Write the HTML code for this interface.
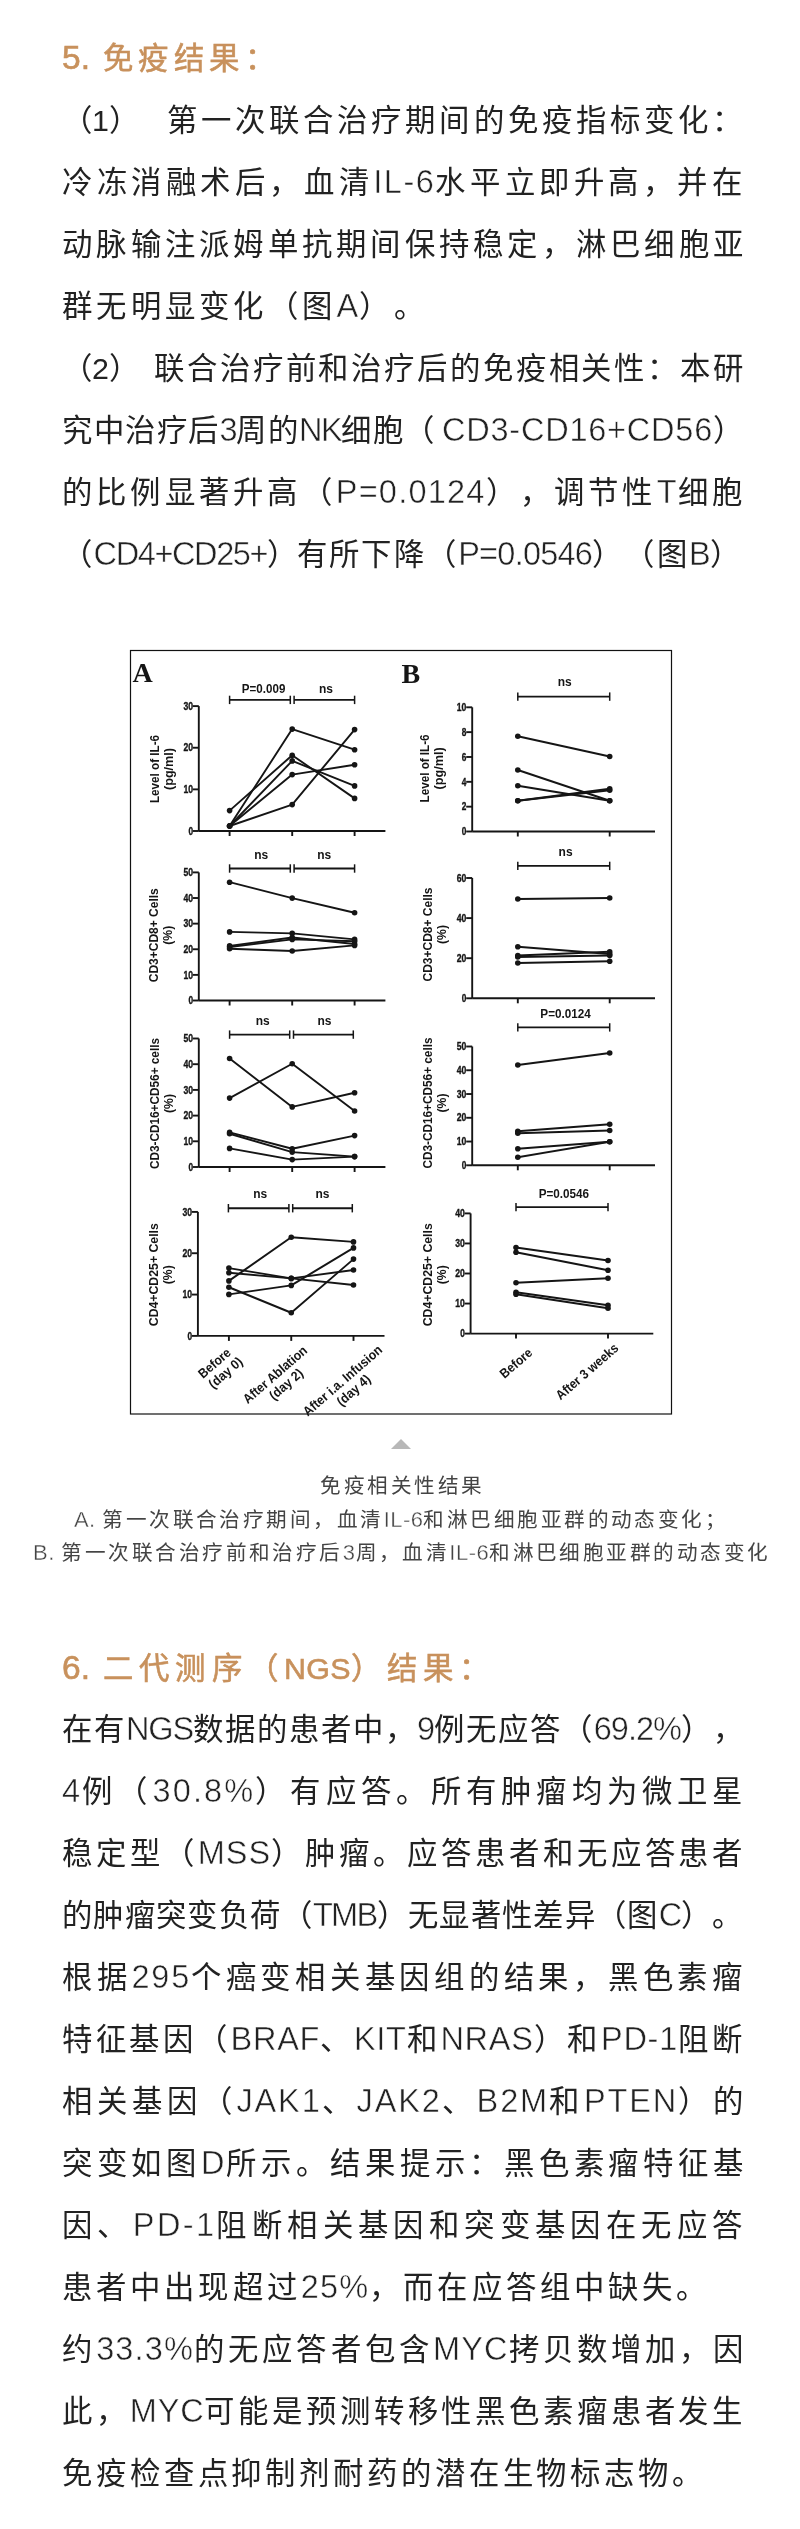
<!DOCTYPE html>
<html lang="zh-CN">
<head>
<meta charset="utf-8">
<style>
html,body{margin:0;padding:0;background:#fff;}
body{width:800px;height:2529px;position:relative;overflow:hidden;font-family:"Liberation Sans",sans-serif;}
.t{position:absolute;white-space:nowrap;line-height:40px;text-spacing-trim:space-all;will-change:transform;}
.b{font-size:30.4px;color:#222;}
.h{font-size:30.4px;color:#c8915c;-webkit-text-stroke:0.6px #c8915c;}
.c{font-size:20.6px;color:#444;}
.fig{will-change:transform;}
</style>
</head>
<body>
<div class="t h" style="left:62.0px;top:38px;letter-spacing:0.00px;font-size:33.5px;">5.</div>
<div class="t h" style="left:102.5px;top:38px;letter-spacing:5.38px;">免疫结果：</div>
<div class="t b" style="left:62.0px;top:100px;letter-spacing:0.00px;">（1）</div>
<div class="t b" style="left:167.0px;top:100px;letter-spacing:4.06px;">第一次联合治疗期间的免疫指标变化：</div>
<div class="t b" style="left:62.0px;top:162px;letter-spacing:4.57px;">冷冻消融术后，血清<span style="font-size:32.5px;line-height:0;-webkit-text-stroke:0.5px #fff;letter-spacing:1.57px">IL-6</span>水平立即升高，并在</div>
<div class="t b" style="left:62.0px;top:224px;letter-spacing:4.26px;">动脉输注派姆单抗期间保持稳定，淋巴细胞亚</div>
<div class="t b" style="left:62.0px;top:286px;letter-spacing:4.30px;">群无明显变化（图<span style="font-size:32.5px;line-height:0;-webkit-text-stroke:0.5px #fff;letter-spacing:1.30px">A</span>）。</div>
<div class="t b" style="left:62.0px;top:348px;letter-spacing:0.00px;">（2）</div>
<div class="t b" style="left:154.0px;top:348px;letter-spacing:2.88px;">联合治疗前和治疗后的免疫相关性：本研</div>
<div class="t b" style="left:62.0px;top:410px;letter-spacing:1.50px;">究中治疗后<span style="font-size:32.5px;line-height:0;-webkit-text-stroke:0.5px #fff;letter-spacing:-1.50px">3</span>周的<span style="font-size:32.5px;line-height:0;-webkit-text-stroke:0.5px #fff;letter-spacing:-1.50px">NK</span>细胞（</div>
<div class="t b" style="left:442.0px;top:410px;letter-spacing:3.77px;"><span style="font-size:32.5px;line-height:0;-webkit-text-stroke:0.5px #fff;letter-spacing:0.77px">CD3-CD16+CD56</span>）</div>
<div class="t b" style="left:62.0px;top:472px;letter-spacing:4.22px;">的比例显著升高（<span style="font-size:32.5px;line-height:0;-webkit-text-stroke:0.5px #fff;letter-spacing:1.22px">P=0.0124</span>），调节性<span style="font-size:32.5px;line-height:0;-webkit-text-stroke:0.5px #fff;letter-spacing:1.22px">T</span>细胞</div>
<div class="t b" style="left:62.0px;top:534px;letter-spacing:1.60px;">（<span style="font-size:32.5px;line-height:0;-webkit-text-stroke:0.5px #fff;letter-spacing:-1.40px">CD4+CD25+</span>）</div>
<div class="t b" style="left:297.0px;top:534px;letter-spacing:2.24px;">有所下降（<span style="font-size:32.5px;line-height:0;-webkit-text-stroke:0.5px #fff;letter-spacing:-0.76px">P=0.0546</span>）（图<span style="font-size:32.5px;line-height:0;-webkit-text-stroke:0.5px #fff;letter-spacing:-0.76px">B</span>）</div>
<div class="t c" style="left:320.0px;top:1466px;letter-spacing:2.50px;">免疫相关性结果</div>
<div class="t c" style="left:74.0px;top:1500px;letter-spacing:2.45px;"><span style="font-size:22.0px;line-height:0;-webkit-text-stroke:0.35px #fff;letter-spacing:0.45px">A. </span>第一次联合治疗期间，血清<span style="font-size:22.0px;line-height:0;-webkit-text-stroke:0.35px #fff;letter-spacing:0.45px">IL-6</span>和淋巴细胞亚群的动态变化；</div>
<div class="t c" style="left:33.0px;top:1533px;letter-spacing:2.46px;"><span style="font-size:22.0px;line-height:0;-webkit-text-stroke:0.35px #fff;letter-spacing:0.46px">B. </span>第一次联合治疗前和治疗后<span style="font-size:22.0px;line-height:0;-webkit-text-stroke:0.35px #fff;letter-spacing:0.46px">3</span>周，血清<span style="font-size:22.0px;line-height:0;-webkit-text-stroke:0.35px #fff;letter-spacing:0.46px">IL-6</span>和淋巴细胞亚群的动态变化</div>
<div class="t h" style="left:62.0px;top:1648px;letter-spacing:0.00px;font-size:33.5px;">6.</div>
<div class="t h" style="left:103.0px;top:1648px;letter-spacing:6.18px;">二代测序（<span style="font-size:30.4px;line-height:0;letter-spacing:0.38px">NGS</span>）结果：</div>
<div class="t b" style="left:62.0px;top:1709px;letter-spacing:1.96px;">在有<span style="font-size:32.5px;line-height:0;-webkit-text-stroke:0.5px #fff;letter-spacing:-1.04px">NGS</span>数据的患者中，<span style="font-size:32.5px;line-height:0;-webkit-text-stroke:0.5px #fff;letter-spacing:-1.04px">9</span>例无应答（<span style="font-size:32.5px;line-height:0;-webkit-text-stroke:0.5px #fff;letter-spacing:-1.04px">69.2%</span>），</div>
<div class="t b" style="left:62.0px;top:1771px;letter-spacing:5.14px;"><span style="font-size:32.5px;line-height:0;-webkit-text-stroke:0.5px #fff;letter-spacing:2.14px">4</span>例（<span style="font-size:32.5px;line-height:0;-webkit-text-stroke:0.5px #fff;letter-spacing:2.14px">30.8%</span>）有应答。所有肿瘤均为微卫星</div>
<div class="t b" style="left:62.0px;top:1833px;letter-spacing:3.95px;">稳定型（<span style="font-size:32.5px;line-height:0;-webkit-text-stroke:0.5px #fff;letter-spacing:0.95px">MSS</span>）肿瘤。应答患者和无应答患者</div>
<div class="t b" style="left:62.0px;top:1895px;letter-spacing:1.36px;">的肿瘤突变负荷（<span style="font-size:32.5px;line-height:0;-webkit-text-stroke:0.5px #fff;letter-spacing:-1.64px">TMB</span>）无显著性差异（图<span style="font-size:32.5px;line-height:0;-webkit-text-stroke:0.5px #fff;letter-spacing:-1.64px">C</span>）。</div>
<div class="t b" style="left:62.0px;top:1957px;letter-spacing:4.75px;">根据<span style="font-size:32.5px;line-height:0;-webkit-text-stroke:0.5px #fff;letter-spacing:1.75px">295</span>个癌变相关基因组的结果，黑色素瘤</div>
<div class="t b" style="left:62.0px;top:2019px;letter-spacing:3.72px;">特征基因（<span style="font-size:32.5px;line-height:0;-webkit-text-stroke:0.5px #fff;letter-spacing:0.72px">BRAF</span>、<span style="font-size:32.5px;line-height:0;-webkit-text-stroke:0.5px #fff;letter-spacing:0.72px">KIT</span>和<span style="font-size:32.5px;line-height:0;-webkit-text-stroke:0.5px #fff;letter-spacing:0.72px">NRAS</span>）和<span style="font-size:32.5px;line-height:0;-webkit-text-stroke:0.5px #fff;letter-spacing:0.72px">PD-1</span>阻断</div>
<div class="t b" style="left:62.0px;top:2081px;letter-spacing:4.88px;">相关基因（<span style="font-size:32.5px;line-height:0;-webkit-text-stroke:0.5px #fff;letter-spacing:1.88px">JAK1</span>、<span style="font-size:32.5px;line-height:0;-webkit-text-stroke:0.5px #fff;letter-spacing:1.88px">JAK2</span>、<span style="font-size:32.5px;line-height:0;-webkit-text-stroke:0.5px #fff;letter-spacing:1.88px">B2M</span>和<span style="font-size:32.5px;line-height:0;-webkit-text-stroke:0.5px #fff;letter-spacing:1.88px">PTEN</span>）的</div>
<div class="t b" style="left:62.0px;top:2143px;letter-spacing:4.74px;">突变如图<span style="font-size:32.5px;line-height:0;-webkit-text-stroke:0.5px #fff;letter-spacing:1.74px">D</span>所示。结果提示：黑色素瘤特征基</div>
<div class="t b" style="left:62.0px;top:2205px;letter-spacing:5.40px;">因、<span style="font-size:32.5px;line-height:0;-webkit-text-stroke:0.5px #fff;letter-spacing:2.40px">PD-1</span>阻断相关基因和突变基因在无应答</div>
<div class="t b" style="left:62.0px;top:2267px;letter-spacing:4.11px;">患者中出现超过<span style="font-size:32.5px;line-height:0;-webkit-text-stroke:0.5px #fff;letter-spacing:1.11px">25%</span>，而在应答组中缺失。</div>
<div class="t b" style="left:62.0px;top:2329px;letter-spacing:4.14px;">约<span style="font-size:32.5px;line-height:0;-webkit-text-stroke:0.5px #fff;letter-spacing:1.14px">33.3%</span>的无应答者包含<span style="font-size:32.5px;line-height:0;-webkit-text-stroke:0.5px #fff;letter-spacing:1.14px">MYC</span>拷贝数增加，因</div>
<div class="t b" style="left:62.0px;top:2391px;letter-spacing:3.85px;">此，<span style="font-size:32.5px;line-height:0;-webkit-text-stroke:0.5px #fff;letter-spacing:0.85px">MYC</span>可能是预测转移性黑色素瘤患者发生</div>
<div class="t b" style="left:62.0px;top:2453px;letter-spacing:3.89px;">免疫检查点抑制剂耐药的潜在生物标志物。</div>
<div style="position:absolute;left:391px;top:1439px;width:0;height:0;border-left:10px solid transparent;border-right:10px solid transparent;border-bottom:10px solid #b8b8b8;"></div>
<svg class="fig" style="position:absolute;left:125px;top:645px" width="555" height="775" viewBox="125 645 555 775"><rect x="130.5" y="650.5" width="541" height="763.5" fill="none" stroke="#111" stroke-width="1.2"/><g stroke="#151515" fill="#151515" font-family="Liberation Sans" font-weight="bold" stroke-linecap="butt"><line x1="198.80" y1="706.10" x2="198.80" y2="831.00" stroke-width="1.9"/>
<line x1="198.80" y1="831.00" x2="385.40" y2="831.00" stroke-width="1.9"/>
<line x1="192.80" y1="831.00" x2="198.80" y2="831.00" stroke-width="1.9"/>
<text x="193.00" y="834.70" font-size="10.4" text-anchor="end" textLength="4.6" lengthAdjust="spacingAndGlyphs" stroke-width="0.35" class="tk">0</text>
<line x1="192.80" y1="789.37" x2="198.80" y2="789.37" stroke-width="1.9"/>
<text x="193.00" y="793.07" font-size="10.4" text-anchor="end" textLength="9.6" lengthAdjust="spacingAndGlyphs" stroke-width="0.35" class="tk">10</text>
<line x1="192.80" y1="747.73" x2="198.80" y2="747.73" stroke-width="1.9"/>
<text x="193.00" y="751.43" font-size="10.4" text-anchor="end" textLength="9.6" lengthAdjust="spacingAndGlyphs" stroke-width="0.35" class="tk">20</text>
<line x1="192.80" y1="706.10" x2="198.80" y2="706.10" stroke-width="1.9"/>
<text x="193.00" y="709.80" font-size="10.4" text-anchor="end" textLength="9.6" lengthAdjust="spacingAndGlyphs" stroke-width="0.35" class="tk">30</text>
<line x1="229.60" y1="831.00" x2="229.60" y2="836.00" stroke-width="1.9"/>
<line x1="292.20" y1="831.00" x2="292.20" y2="836.00" stroke-width="1.9"/>
<line x1="354.60" y1="831.00" x2="354.60" y2="836.00" stroke-width="1.9"/>
<polyline points="229.60,826.00 292.20,729.10 354.60,749.70" fill="none" stroke-width="1.9" stroke-linejoin="round"/>
<polyline points="229.60,810.60 292.20,755.30 354.60,798.40" fill="none" stroke-width="1.9" stroke-linejoin="round"/>
<polyline points="229.60,826.00 292.20,760.90 354.60,785.90" fill="none" stroke-width="1.9" stroke-linejoin="round"/>
<polyline points="229.60,826.00 292.20,774.60 354.60,764.70" fill="none" stroke-width="1.9" stroke-linejoin="round"/>
<polyline points="229.60,826.00 292.20,804.60 354.60,729.60" fill="none" stroke-width="1.9" stroke-linejoin="round"/>
<circle cx="229.60" cy="826.00" r="2.8" stroke="none"/>
<circle cx="292.20" cy="729.10" r="2.8" stroke="none"/>
<circle cx="354.60" cy="749.70" r="2.8" stroke="none"/>
<circle cx="229.60" cy="810.60" r="2.8" stroke="none"/>
<circle cx="292.20" cy="755.30" r="2.8" stroke="none"/>
<circle cx="354.60" cy="798.40" r="2.8" stroke="none"/>
<circle cx="229.60" cy="826.00" r="2.8" stroke="none"/>
<circle cx="292.20" cy="760.90" r="2.8" stroke="none"/>
<circle cx="354.60" cy="785.90" r="2.8" stroke="none"/>
<circle cx="229.60" cy="826.00" r="2.8" stroke="none"/>
<circle cx="292.20" cy="774.60" r="2.8" stroke="none"/>
<circle cx="354.60" cy="764.70" r="2.8" stroke="none"/>
<circle cx="229.60" cy="826.00" r="2.8" stroke="none"/>
<circle cx="292.20" cy="804.60" r="2.8" stroke="none"/>
<circle cx="354.60" cy="729.60" r="2.8" stroke="none"/>
<line x1="229.60" y1="699.90" x2="290.30" y2="699.90" stroke-width="1.9"/>
<line x1="294.10" y1="699.90" x2="354.60" y2="699.90" stroke-width="1.9"/>
<line x1="229.60" y1="695.70" x2="229.60" y2="704.10" stroke-width="1.5"/>
<line x1="290.30" y1="695.70" x2="290.30" y2="704.10" stroke-width="1.5"/>
<line x1="294.10" y1="695.70" x2="294.10" y2="704.10" stroke-width="1.5"/>
<line x1="354.60" y1="695.70" x2="354.60" y2="704.10" stroke-width="1.5"/>
<text stroke="none" x="263.60" y="692.90" font-size="12.5" text-anchor="middle" textLength="43.5" lengthAdjust="spacingAndGlyphs">P=0.009</text>
<text stroke="none" x="325.90" y="692.90" font-size="12.5" text-anchor="middle" textLength="14" lengthAdjust="spacingAndGlyphs">ns</text>
<g transform="translate(159.00,769.00) rotate(-90)">
<text stroke="none" x="0.00" y="0.00" font-size="13" text-anchor="middle" textLength="68" lengthAdjust="spacingAndGlyphs">Level of IL-6</text>
<text stroke="none" x="0.00" y="14.00" font-size="13" text-anchor="middle" textLength="42" lengthAdjust="spacingAndGlyphs">(pg/ml)</text>
</g>
<line x1="472.20" y1="707.30" x2="472.20" y2="831.50" stroke-width="1.9"/>
<line x1="472.20" y1="831.50" x2="655.00" y2="831.50" stroke-width="1.9"/>
<line x1="466.20" y1="831.50" x2="472.20" y2="831.50" stroke-width="1.9"/>
<text x="466.40" y="835.20" font-size="10.4" text-anchor="end" textLength="4.6" lengthAdjust="spacingAndGlyphs" stroke-width="0.35" class="tk">0</text>
<line x1="466.20" y1="806.66" x2="472.20" y2="806.66" stroke-width="1.9"/>
<text x="466.40" y="810.36" font-size="10.4" text-anchor="end" textLength="4.6" lengthAdjust="spacingAndGlyphs" stroke-width="0.35" class="tk">2</text>
<line x1="466.20" y1="781.82" x2="472.20" y2="781.82" stroke-width="1.9"/>
<text x="466.40" y="785.52" font-size="10.4" text-anchor="end" textLength="4.6" lengthAdjust="spacingAndGlyphs" stroke-width="0.35" class="tk">4</text>
<line x1="466.20" y1="756.98" x2="472.20" y2="756.98" stroke-width="1.9"/>
<text x="466.40" y="760.68" font-size="10.4" text-anchor="end" textLength="4.6" lengthAdjust="spacingAndGlyphs" stroke-width="0.35" class="tk">6</text>
<line x1="466.20" y1="732.14" x2="472.20" y2="732.14" stroke-width="1.9"/>
<text x="466.40" y="735.84" font-size="10.4" text-anchor="end" textLength="4.6" lengthAdjust="spacingAndGlyphs" stroke-width="0.35" class="tk">8</text>
<line x1="466.20" y1="707.30" x2="472.20" y2="707.30" stroke-width="1.9"/>
<text x="466.40" y="711.00" font-size="10.4" text-anchor="end" textLength="9.6" lengthAdjust="spacingAndGlyphs" stroke-width="0.35" class="tk">10</text>
<line x1="517.80" y1="831.50" x2="517.80" y2="836.50" stroke-width="1.9"/>
<line x1="609.70" y1="831.50" x2="609.70" y2="836.50" stroke-width="1.9"/>
<polyline points="517.80,736.25 609.70,756.50" fill="none" stroke-width="1.9" stroke-linejoin="round"/>
<polyline points="517.80,770.00 609.70,800.75" fill="none" stroke-width="1.9" stroke-linejoin="round"/>
<polyline points="517.80,785.75 609.70,800.75" fill="none" stroke-width="1.9" stroke-linejoin="round"/>
<polyline points="517.80,800.75 609.70,788.75" fill="none" stroke-width="1.9" stroke-linejoin="round"/>
<polyline points="517.80,800.75 609.70,790.25" fill="none" stroke-width="1.9" stroke-linejoin="round"/>
<circle cx="517.80" cy="736.25" r="2.8" stroke="none"/>
<circle cx="609.70" cy="756.50" r="2.8" stroke="none"/>
<circle cx="517.80" cy="770.00" r="2.8" stroke="none"/>
<circle cx="609.70" cy="800.75" r="2.8" stroke="none"/>
<circle cx="517.80" cy="785.75" r="2.8" stroke="none"/>
<circle cx="609.70" cy="800.75" r="2.8" stroke="none"/>
<circle cx="517.80" cy="800.75" r="2.8" stroke="none"/>
<circle cx="609.70" cy="788.75" r="2.8" stroke="none"/>
<circle cx="517.80" cy="800.75" r="2.8" stroke="none"/>
<circle cx="609.70" cy="790.25" r="2.8" stroke="none"/>
<line x1="517.80" y1="696.60" x2="609.70" y2="696.60" stroke-width="1.9"/>
<line x1="517.80" y1="692.40" x2="517.80" y2="700.80" stroke-width="1.5"/>
<line x1="609.70" y1="692.40" x2="609.70" y2="700.80" stroke-width="1.5"/>
<text stroke="none" x="564.70" y="686.30" font-size="12.5" text-anchor="middle" textLength="14" lengthAdjust="spacingAndGlyphs">ns</text>
<g transform="translate(429.00,768.40) rotate(-90)">
<text stroke="none" x="0.00" y="0.00" font-size="13" text-anchor="middle" textLength="68" lengthAdjust="spacingAndGlyphs">Level of IL-6</text>
<text stroke="none" x="0.00" y="14.00" font-size="13" text-anchor="middle" textLength="42" lengthAdjust="spacingAndGlyphs">(pg/ml)</text>
</g>
<line x1="198.80" y1="872.40" x2="198.80" y2="1000.50" stroke-width="1.9"/>
<line x1="198.80" y1="1000.50" x2="385.40" y2="1000.50" stroke-width="1.9"/>
<line x1="192.80" y1="1000.50" x2="198.80" y2="1000.50" stroke-width="1.9"/>
<text x="193.00" y="1004.20" font-size="10.4" text-anchor="end" textLength="4.6" lengthAdjust="spacingAndGlyphs" stroke-width="0.35" class="tk">0</text>
<line x1="192.80" y1="974.88" x2="198.80" y2="974.88" stroke-width="1.9"/>
<text x="193.00" y="978.58" font-size="10.4" text-anchor="end" textLength="9.6" lengthAdjust="spacingAndGlyphs" stroke-width="0.35" class="tk">10</text>
<line x1="192.80" y1="949.26" x2="198.80" y2="949.26" stroke-width="1.9"/>
<text x="193.00" y="952.96" font-size="10.4" text-anchor="end" textLength="9.6" lengthAdjust="spacingAndGlyphs" stroke-width="0.35" class="tk">20</text>
<line x1="192.80" y1="923.64" x2="198.80" y2="923.64" stroke-width="1.9"/>
<text x="193.00" y="927.34" font-size="10.4" text-anchor="end" textLength="9.6" lengthAdjust="spacingAndGlyphs" stroke-width="0.35" class="tk">30</text>
<line x1="192.80" y1="898.02" x2="198.80" y2="898.02" stroke-width="1.9"/>
<text x="193.00" y="901.72" font-size="10.4" text-anchor="end" textLength="9.6" lengthAdjust="spacingAndGlyphs" stroke-width="0.35" class="tk">40</text>
<line x1="192.80" y1="872.40" x2="198.80" y2="872.40" stroke-width="1.9"/>
<text x="193.00" y="876.10" font-size="10.4" text-anchor="end" textLength="9.6" lengthAdjust="spacingAndGlyphs" stroke-width="0.35" class="tk">50</text>
<line x1="229.60" y1="1000.50" x2="229.60" y2="1005.50" stroke-width="1.9"/>
<line x1="292.20" y1="1000.50" x2="292.20" y2="1005.50" stroke-width="1.9"/>
<line x1="354.60" y1="1000.50" x2="354.60" y2="1005.50" stroke-width="1.9"/>
<polyline points="229.60,882.20 292.20,898.10 354.60,912.75" fill="none" stroke-width="1.9" stroke-linejoin="round"/>
<polyline points="229.60,931.90 292.20,933.40 354.60,939.40" fill="none" stroke-width="1.9" stroke-linejoin="round"/>
<polyline points="229.60,945.90 292.20,937.50 354.60,944.00" fill="none" stroke-width="1.9" stroke-linejoin="round"/>
<polyline points="229.60,947.00 292.20,939.40 354.60,941.25" fill="none" stroke-width="1.9" stroke-linejoin="round"/>
<polyline points="229.60,948.75 292.20,951.00 354.60,945.40" fill="none" stroke-width="1.9" stroke-linejoin="round"/>
<circle cx="229.60" cy="882.20" r="2.8" stroke="none"/>
<circle cx="292.20" cy="898.10" r="2.8" stroke="none"/>
<circle cx="354.60" cy="912.75" r="2.8" stroke="none"/>
<circle cx="229.60" cy="931.90" r="2.8" stroke="none"/>
<circle cx="292.20" cy="933.40" r="2.8" stroke="none"/>
<circle cx="354.60" cy="939.40" r="2.8" stroke="none"/>
<circle cx="229.60" cy="945.90" r="2.8" stroke="none"/>
<circle cx="292.20" cy="937.50" r="2.8" stroke="none"/>
<circle cx="354.60" cy="944.00" r="2.8" stroke="none"/>
<circle cx="229.60" cy="947.00" r="2.8" stroke="none"/>
<circle cx="292.20" cy="939.40" r="2.8" stroke="none"/>
<circle cx="354.60" cy="941.25" r="2.8" stroke="none"/>
<circle cx="229.60" cy="948.75" r="2.8" stroke="none"/>
<circle cx="292.20" cy="951.00" r="2.8" stroke="none"/>
<circle cx="354.60" cy="945.40" r="2.8" stroke="none"/>
<line x1="229.60" y1="868.50" x2="290.30" y2="868.50" stroke-width="1.9"/>
<line x1="294.10" y1="868.50" x2="354.60" y2="868.50" stroke-width="1.9"/>
<line x1="229.60" y1="864.30" x2="229.60" y2="872.70" stroke-width="1.5"/>
<line x1="290.30" y1="864.30" x2="290.30" y2="872.70" stroke-width="1.5"/>
<line x1="294.10" y1="864.30" x2="294.10" y2="872.70" stroke-width="1.5"/>
<line x1="354.60" y1="864.30" x2="354.60" y2="872.70" stroke-width="1.5"/>
<text stroke="none" x="261.25" y="858.75" font-size="12.5" text-anchor="middle" textLength="14" lengthAdjust="spacingAndGlyphs">ns</text>
<text stroke="none" x="324.25" y="858.75" font-size="12.5" text-anchor="middle" textLength="14" lengthAdjust="spacingAndGlyphs">ns</text>
<g transform="translate(158.30,935.20) rotate(-90)">
<text stroke="none" x="0.00" y="0.00" font-size="13" text-anchor="middle" textLength="94" lengthAdjust="spacingAndGlyphs">CD3+CD8+ Cells</text>
<text stroke="none" x="0.00" y="14.00" font-size="13" text-anchor="middle" textLength="19" lengthAdjust="spacingAndGlyphs">(%)</text>
</g>
<line x1="472.20" y1="878.00" x2="472.20" y2="998.30" stroke-width="1.9"/>
<line x1="472.20" y1="998.30" x2="655.00" y2="998.30" stroke-width="1.9"/>
<line x1="466.20" y1="998.30" x2="472.20" y2="998.30" stroke-width="1.9"/>
<text x="466.40" y="1002.00" font-size="10.4" text-anchor="end" textLength="4.6" lengthAdjust="spacingAndGlyphs" stroke-width="0.35" class="tk">0</text>
<line x1="466.20" y1="958.20" x2="472.20" y2="958.20" stroke-width="1.9"/>
<text x="466.40" y="961.90" font-size="10.4" text-anchor="end" textLength="9.6" lengthAdjust="spacingAndGlyphs" stroke-width="0.35" class="tk">20</text>
<line x1="466.20" y1="918.10" x2="472.20" y2="918.10" stroke-width="1.9"/>
<text x="466.40" y="921.80" font-size="10.4" text-anchor="end" textLength="9.6" lengthAdjust="spacingAndGlyphs" stroke-width="0.35" class="tk">40</text>
<line x1="466.20" y1="878.00" x2="472.20" y2="878.00" stroke-width="1.9"/>
<text x="466.40" y="881.70" font-size="10.4" text-anchor="end" textLength="9.6" lengthAdjust="spacingAndGlyphs" stroke-width="0.35" class="tk">60</text>
<line x1="517.80" y1="998.30" x2="517.80" y2="1003.30" stroke-width="1.9"/>
<line x1="609.70" y1="998.30" x2="609.70" y2="1003.30" stroke-width="1.9"/>
<polyline points="517.80,899.00 609.70,898.00" fill="none" stroke-width="1.9" stroke-linejoin="round"/>
<polyline points="517.80,946.80 609.70,954.00" fill="none" stroke-width="1.9" stroke-linejoin="round"/>
<polyline points="517.80,955.50 609.70,951.75" fill="none" stroke-width="1.9" stroke-linejoin="round"/>
<polyline points="517.80,957.00 609.70,955.50" fill="none" stroke-width="1.9" stroke-linejoin="round"/>
<polyline points="517.80,963.00 609.70,961.20" fill="none" stroke-width="1.9" stroke-linejoin="round"/>
<circle cx="517.80" cy="899.00" r="2.8" stroke="none"/>
<circle cx="609.70" cy="898.00" r="2.8" stroke="none"/>
<circle cx="517.80" cy="946.80" r="2.8" stroke="none"/>
<circle cx="609.70" cy="954.00" r="2.8" stroke="none"/>
<circle cx="517.80" cy="955.50" r="2.8" stroke="none"/>
<circle cx="609.70" cy="951.75" r="2.8" stroke="none"/>
<circle cx="517.80" cy="957.00" r="2.8" stroke="none"/>
<circle cx="609.70" cy="955.50" r="2.8" stroke="none"/>
<circle cx="517.80" cy="963.00" r="2.8" stroke="none"/>
<circle cx="609.70" cy="961.20" r="2.8" stroke="none"/>
<line x1="517.80" y1="865.90" x2="609.70" y2="865.90" stroke-width="1.9"/>
<line x1="517.80" y1="861.70" x2="517.80" y2="870.10" stroke-width="1.5"/>
<line x1="609.70" y1="861.70" x2="609.70" y2="870.10" stroke-width="1.5"/>
<text stroke="none" x="565.60" y="855.75" font-size="12.5" text-anchor="middle" textLength="14" lengthAdjust="spacingAndGlyphs">ns</text>
<g transform="translate(432.00,934.50) rotate(-90)">
<text stroke="none" x="0.00" y="0.00" font-size="13" text-anchor="middle" textLength="94" lengthAdjust="spacingAndGlyphs">CD3+CD8+ Cells</text>
<text stroke="none" x="0.00" y="14.00" font-size="13" text-anchor="middle" textLength="19" lengthAdjust="spacingAndGlyphs">(%)</text>
</g>
<line x1="198.80" y1="1038.50" x2="198.80" y2="1167.00" stroke-width="1.9"/>
<line x1="198.80" y1="1167.00" x2="385.40" y2="1167.00" stroke-width="1.9"/>
<line x1="192.80" y1="1167.00" x2="198.80" y2="1167.00" stroke-width="1.9"/>
<text x="193.00" y="1170.70" font-size="10.4" text-anchor="end" textLength="4.6" lengthAdjust="spacingAndGlyphs" stroke-width="0.35" class="tk">0</text>
<line x1="192.80" y1="1141.30" x2="198.80" y2="1141.30" stroke-width="1.9"/>
<text x="193.00" y="1145.00" font-size="10.4" text-anchor="end" textLength="9.6" lengthAdjust="spacingAndGlyphs" stroke-width="0.35" class="tk">10</text>
<line x1="192.80" y1="1115.60" x2="198.80" y2="1115.60" stroke-width="1.9"/>
<text x="193.00" y="1119.30" font-size="10.4" text-anchor="end" textLength="9.6" lengthAdjust="spacingAndGlyphs" stroke-width="0.35" class="tk">20</text>
<line x1="192.80" y1="1089.90" x2="198.80" y2="1089.90" stroke-width="1.9"/>
<text x="193.00" y="1093.60" font-size="10.4" text-anchor="end" textLength="9.6" lengthAdjust="spacingAndGlyphs" stroke-width="0.35" class="tk">30</text>
<line x1="192.80" y1="1064.20" x2="198.80" y2="1064.20" stroke-width="1.9"/>
<text x="193.00" y="1067.90" font-size="10.4" text-anchor="end" textLength="9.6" lengthAdjust="spacingAndGlyphs" stroke-width="0.35" class="tk">40</text>
<line x1="192.80" y1="1038.50" x2="198.80" y2="1038.50" stroke-width="1.9"/>
<text x="193.00" y="1042.20" font-size="10.4" text-anchor="end" textLength="9.6" lengthAdjust="spacingAndGlyphs" stroke-width="0.35" class="tk">50</text>
<line x1="229.60" y1="1167.00" x2="229.60" y2="1172.00" stroke-width="1.9"/>
<line x1="292.20" y1="1167.00" x2="292.20" y2="1172.00" stroke-width="1.9"/>
<line x1="354.60" y1="1167.00" x2="354.60" y2="1172.00" stroke-width="1.9"/>
<polyline points="229.60,1058.50 292.20,1106.90 354.60,1092.80" fill="none" stroke-width="1.9" stroke-linejoin="round"/>
<polyline points="229.60,1098.10 292.20,1063.75 354.60,1111.00" fill="none" stroke-width="1.9" stroke-linejoin="round"/>
<polyline points="229.60,1132.40 292.20,1148.75 354.60,1135.60" fill="none" stroke-width="1.9" stroke-linejoin="round"/>
<polyline points="229.60,1133.75 292.20,1152.10 354.60,1156.60" fill="none" stroke-width="1.9" stroke-linejoin="round"/>
<polyline points="229.60,1148.40 292.20,1159.60 354.60,1156.60" fill="none" stroke-width="1.9" stroke-linejoin="round"/>
<circle cx="229.60" cy="1058.50" r="2.8" stroke="none"/>
<circle cx="292.20" cy="1106.90" r="2.8" stroke="none"/>
<circle cx="354.60" cy="1092.80" r="2.8" stroke="none"/>
<circle cx="229.60" cy="1098.10" r="2.8" stroke="none"/>
<circle cx="292.20" cy="1063.75" r="2.8" stroke="none"/>
<circle cx="354.60" cy="1111.00" r="2.8" stroke="none"/>
<circle cx="229.60" cy="1132.40" r="2.8" stroke="none"/>
<circle cx="292.20" cy="1148.75" r="2.8" stroke="none"/>
<circle cx="354.60" cy="1135.60" r="2.8" stroke="none"/>
<circle cx="229.60" cy="1133.75" r="2.8" stroke="none"/>
<circle cx="292.20" cy="1152.10" r="2.8" stroke="none"/>
<circle cx="354.60" cy="1156.60" r="2.8" stroke="none"/>
<circle cx="229.60" cy="1148.40" r="2.8" stroke="none"/>
<circle cx="292.20" cy="1159.60" r="2.8" stroke="none"/>
<circle cx="354.60" cy="1156.60" r="2.8" stroke="none"/>
<line x1="229.60" y1="1034.60" x2="289.70" y2="1034.60" stroke-width="1.9"/>
<line x1="293.50" y1="1034.60" x2="353.30" y2="1034.60" stroke-width="1.9"/>
<line x1="229.60" y1="1030.40" x2="229.60" y2="1038.80" stroke-width="1.5"/>
<line x1="289.70" y1="1030.40" x2="289.70" y2="1038.80" stroke-width="1.5"/>
<line x1="293.50" y1="1030.40" x2="293.50" y2="1038.80" stroke-width="1.5"/>
<line x1="353.30" y1="1030.40" x2="353.30" y2="1038.80" stroke-width="1.5"/>
<text stroke="none" x="262.80" y="1025.00" font-size="12.5" text-anchor="middle" textLength="14" lengthAdjust="spacingAndGlyphs">ns</text>
<text stroke="none" x="324.40" y="1025.00" font-size="12.5" text-anchor="middle" textLength="14" lengthAdjust="spacingAndGlyphs">ns</text>
<g transform="translate(158.50,1103.50) rotate(-90)">
<text stroke="none" x="0.00" y="0.00" font-size="13" text-anchor="middle" textLength="131" lengthAdjust="spacingAndGlyphs">CD3-CD16+CD56+ cells</text>
<text stroke="none" x="0.00" y="14.00" font-size="13" text-anchor="middle" textLength="19" lengthAdjust="spacingAndGlyphs">(%)</text>
</g>
<line x1="472.20" y1="1046.50" x2="472.20" y2="1165.30" stroke-width="1.9"/>
<line x1="472.20" y1="1165.30" x2="655.00" y2="1165.30" stroke-width="1.9"/>
<line x1="466.20" y1="1165.30" x2="472.20" y2="1165.30" stroke-width="1.9"/>
<text x="466.40" y="1169.00" font-size="10.4" text-anchor="end" textLength="4.6" lengthAdjust="spacingAndGlyphs" stroke-width="0.35" class="tk">0</text>
<line x1="466.20" y1="1141.54" x2="472.20" y2="1141.54" stroke-width="1.9"/>
<text x="466.40" y="1145.24" font-size="10.4" text-anchor="end" textLength="9.6" lengthAdjust="spacingAndGlyphs" stroke-width="0.35" class="tk">10</text>
<line x1="466.20" y1="1117.78" x2="472.20" y2="1117.78" stroke-width="1.9"/>
<text x="466.40" y="1121.48" font-size="10.4" text-anchor="end" textLength="9.6" lengthAdjust="spacingAndGlyphs" stroke-width="0.35" class="tk">20</text>
<line x1="466.20" y1="1094.02" x2="472.20" y2="1094.02" stroke-width="1.9"/>
<text x="466.40" y="1097.72" font-size="10.4" text-anchor="end" textLength="9.6" lengthAdjust="spacingAndGlyphs" stroke-width="0.35" class="tk">30</text>
<line x1="466.20" y1="1070.26" x2="472.20" y2="1070.26" stroke-width="1.9"/>
<text x="466.40" y="1073.96" font-size="10.4" text-anchor="end" textLength="9.6" lengthAdjust="spacingAndGlyphs" stroke-width="0.35" class="tk">40</text>
<line x1="466.20" y1="1046.50" x2="472.20" y2="1046.50" stroke-width="1.9"/>
<text x="466.40" y="1050.20" font-size="10.4" text-anchor="end" textLength="9.6" lengthAdjust="spacingAndGlyphs" stroke-width="0.35" class="tk">50</text>
<line x1="517.80" y1="1165.30" x2="517.80" y2="1170.30" stroke-width="1.9"/>
<line x1="609.70" y1="1165.30" x2="609.70" y2="1170.30" stroke-width="1.9"/>
<polyline points="517.80,1064.95 609.70,1053.00" fill="none" stroke-width="1.9" stroke-linejoin="round"/>
<polyline points="517.80,1131.25 609.70,1124.20" fill="none" stroke-width="1.9" stroke-linejoin="round"/>
<polyline points="517.80,1133.20 609.70,1130.50" fill="none" stroke-width="1.9" stroke-linejoin="round"/>
<polyline points="517.80,1148.80 609.70,1141.75" fill="none" stroke-width="1.9" stroke-linejoin="round"/>
<polyline points="517.80,1157.20 609.70,1141.75" fill="none" stroke-width="1.9" stroke-linejoin="round"/>
<circle cx="517.80" cy="1064.95" r="2.8" stroke="none"/>
<circle cx="609.70" cy="1053.00" r="2.8" stroke="none"/>
<circle cx="517.80" cy="1131.25" r="2.8" stroke="none"/>
<circle cx="609.70" cy="1124.20" r="2.8" stroke="none"/>
<circle cx="517.80" cy="1133.20" r="2.8" stroke="none"/>
<circle cx="609.70" cy="1130.50" r="2.8" stroke="none"/>
<circle cx="517.80" cy="1148.80" r="2.8" stroke="none"/>
<circle cx="609.70" cy="1141.75" r="2.8" stroke="none"/>
<circle cx="517.80" cy="1157.20" r="2.8" stroke="none"/>
<circle cx="609.70" cy="1141.75" r="2.8" stroke="none"/>
<line x1="517.80" y1="1027.40" x2="609.70" y2="1027.40" stroke-width="1.9"/>
<line x1="517.80" y1="1023.20" x2="517.80" y2="1031.60" stroke-width="1.5"/>
<line x1="609.70" y1="1023.20" x2="609.70" y2="1031.60" stroke-width="1.5"/>
<text stroke="none" x="565.60" y="1018.30" font-size="12.5" text-anchor="middle" textLength="50.5" lengthAdjust="spacingAndGlyphs">P=0.0124</text>
<g transform="translate(432.00,1103.00) rotate(-90)">
<text stroke="none" x="0.00" y="0.00" font-size="13" text-anchor="middle" textLength="131" lengthAdjust="spacingAndGlyphs">CD3-CD16+CD56+ cells</text>
<text stroke="none" x="0.00" y="14.00" font-size="13" text-anchor="middle" textLength="19" lengthAdjust="spacingAndGlyphs">(%)</text>
</g>
<line x1="197.90" y1="1211.90" x2="197.90" y2="1335.90" stroke-width="1.9"/>
<line x1="197.90" y1="1335.90" x2="384.50" y2="1335.90" stroke-width="1.9"/>
<line x1="191.90" y1="1335.90" x2="197.90" y2="1335.90" stroke-width="1.9"/>
<text x="192.10" y="1339.60" font-size="10.4" text-anchor="end" textLength="4.6" lengthAdjust="spacingAndGlyphs" stroke-width="0.35" class="tk">0</text>
<line x1="191.90" y1="1294.57" x2="197.90" y2="1294.57" stroke-width="1.9"/>
<text x="192.10" y="1298.27" font-size="10.4" text-anchor="end" textLength="9.6" lengthAdjust="spacingAndGlyphs" stroke-width="0.35" class="tk">10</text>
<line x1="191.90" y1="1253.23" x2="197.90" y2="1253.23" stroke-width="1.9"/>
<text x="192.10" y="1256.93" font-size="10.4" text-anchor="end" textLength="9.6" lengthAdjust="spacingAndGlyphs" stroke-width="0.35" class="tk">20</text>
<line x1="191.90" y1="1211.90" x2="197.90" y2="1211.90" stroke-width="1.9"/>
<text x="192.10" y="1215.60" font-size="10.4" text-anchor="end" textLength="9.6" lengthAdjust="spacingAndGlyphs" stroke-width="0.35" class="tk">30</text>
<line x1="228.90" y1="1335.90" x2="228.90" y2="1340.90" stroke-width="1.9"/>
<line x1="291.25" y1="1335.90" x2="291.25" y2="1340.90" stroke-width="1.9"/>
<line x1="353.50" y1="1335.90" x2="353.50" y2="1340.90" stroke-width="1.9"/>
<polyline points="228.90,1280.90 291.25,1237.20 353.50,1241.90" fill="none" stroke-width="1.9" stroke-linejoin="round"/>
<polyline points="228.90,1268.10 291.25,1278.40 353.50,1285.00" fill="none" stroke-width="1.9" stroke-linejoin="round"/>
<polyline points="228.90,1272.80 291.25,1278.40 353.50,1270.00" fill="none" stroke-width="1.9" stroke-linejoin="round"/>
<polyline points="228.90,1294.40 291.25,1285.40 353.50,1247.90" fill="none" stroke-width="1.9" stroke-linejoin="round"/>
<polyline points="228.90,1287.25 291.25,1312.75 353.50,1259.10" fill="none" stroke-width="1.9" stroke-linejoin="round"/>
<circle cx="228.90" cy="1280.90" r="2.8" stroke="none"/>
<circle cx="291.25" cy="1237.20" r="2.8" stroke="none"/>
<circle cx="353.50" cy="1241.90" r="2.8" stroke="none"/>
<circle cx="228.90" cy="1268.10" r="2.8" stroke="none"/>
<circle cx="291.25" cy="1278.40" r="2.8" stroke="none"/>
<circle cx="353.50" cy="1285.00" r="2.8" stroke="none"/>
<circle cx="228.90" cy="1272.80" r="2.8" stroke="none"/>
<circle cx="291.25" cy="1278.40" r="2.8" stroke="none"/>
<circle cx="353.50" cy="1270.00" r="2.8" stroke="none"/>
<circle cx="228.90" cy="1294.40" r="2.8" stroke="none"/>
<circle cx="291.25" cy="1285.40" r="2.8" stroke="none"/>
<circle cx="353.50" cy="1247.90" r="2.8" stroke="none"/>
<circle cx="228.90" cy="1287.25" r="2.8" stroke="none"/>
<circle cx="291.25" cy="1312.75" r="2.8" stroke="none"/>
<circle cx="353.50" cy="1259.10" r="2.8" stroke="none"/>
<line x1="228.40" y1="1208.20" x2="288.90" y2="1208.20" stroke-width="1.9"/>
<line x1="292.70" y1="1208.20" x2="352.30" y2="1208.20" stroke-width="1.9"/>
<line x1="228.40" y1="1204.00" x2="228.40" y2="1212.40" stroke-width="1.5"/>
<line x1="288.90" y1="1204.00" x2="288.90" y2="1212.40" stroke-width="1.5"/>
<line x1="292.70" y1="1204.00" x2="292.70" y2="1212.40" stroke-width="1.5"/>
<line x1="352.30" y1="1204.00" x2="352.30" y2="1212.40" stroke-width="1.5"/>
<text stroke="none" x="260.30" y="1198.40" font-size="12.5" text-anchor="middle" textLength="14" lengthAdjust="spacingAndGlyphs">ns</text>
<text stroke="none" x="322.50" y="1198.40" font-size="12.5" text-anchor="middle" textLength="14" lengthAdjust="spacingAndGlyphs">ns</text>
<g transform="translate(158.30,1274.70) rotate(-90)">
<text stroke="none" x="0.00" y="0.00" font-size="13" text-anchor="middle" textLength="103" lengthAdjust="spacingAndGlyphs">CD4+CD25+ Cells</text>
<text stroke="none" x="0.00" y="14.00" font-size="13" text-anchor="middle" textLength="19" lengthAdjust="spacingAndGlyphs">(%)</text>
</g>
<line x1="470.60" y1="1213.40" x2="470.60" y2="1333.60" stroke-width="1.9"/>
<line x1="470.60" y1="1333.60" x2="653.30" y2="1333.60" stroke-width="1.9"/>
<line x1="464.60" y1="1333.60" x2="470.60" y2="1333.60" stroke-width="1.9"/>
<text x="464.80" y="1337.30" font-size="10.4" text-anchor="end" textLength="4.6" lengthAdjust="spacingAndGlyphs" stroke-width="0.35" class="tk">0</text>
<line x1="464.60" y1="1303.55" x2="470.60" y2="1303.55" stroke-width="1.9"/>
<text x="464.80" y="1307.25" font-size="10.4" text-anchor="end" textLength="9.6" lengthAdjust="spacingAndGlyphs" stroke-width="0.35" class="tk">10</text>
<line x1="464.60" y1="1273.50" x2="470.60" y2="1273.50" stroke-width="1.9"/>
<text x="464.80" y="1277.20" font-size="10.4" text-anchor="end" textLength="9.6" lengthAdjust="spacingAndGlyphs" stroke-width="0.35" class="tk">20</text>
<line x1="464.60" y1="1243.45" x2="470.60" y2="1243.45" stroke-width="1.9"/>
<text x="464.80" y="1247.15" font-size="10.4" text-anchor="end" textLength="9.6" lengthAdjust="spacingAndGlyphs" stroke-width="0.35" class="tk">30</text>
<line x1="464.60" y1="1213.40" x2="470.60" y2="1213.40" stroke-width="1.9"/>
<text x="464.80" y="1217.10" font-size="10.4" text-anchor="end" textLength="9.6" lengthAdjust="spacingAndGlyphs" stroke-width="0.35" class="tk">40</text>
<line x1="516.00" y1="1333.60" x2="516.00" y2="1338.60" stroke-width="1.9"/>
<line x1="608.00" y1="1333.60" x2="608.00" y2="1338.60" stroke-width="1.9"/>
<polyline points="516.00,1247.50 608.00,1260.50" fill="none" stroke-width="1.9" stroke-linejoin="round"/>
<polyline points="516.00,1252.30 608.00,1270.30" fill="none" stroke-width="1.9" stroke-linejoin="round"/>
<polyline points="516.00,1282.75 608.00,1278.25" fill="none" stroke-width="1.9" stroke-linejoin="round"/>
<polyline points="516.00,1292.20 608.00,1305.20" fill="none" stroke-width="1.9" stroke-linejoin="round"/>
<polyline points="516.00,1294.30 608.00,1308.20" fill="none" stroke-width="1.9" stroke-linejoin="round"/>
<circle cx="516.00" cy="1247.50" r="2.8" stroke="none"/>
<circle cx="608.00" cy="1260.50" r="2.8" stroke="none"/>
<circle cx="516.00" cy="1252.30" r="2.8" stroke="none"/>
<circle cx="608.00" cy="1270.30" r="2.8" stroke="none"/>
<circle cx="516.00" cy="1282.75" r="2.8" stroke="none"/>
<circle cx="608.00" cy="1278.25" r="2.8" stroke="none"/>
<circle cx="516.00" cy="1292.20" r="2.8" stroke="none"/>
<circle cx="608.00" cy="1305.20" r="2.8" stroke="none"/>
<circle cx="516.00" cy="1294.30" r="2.8" stroke="none"/>
<circle cx="608.00" cy="1308.20" r="2.8" stroke="none"/>
<line x1="516.00" y1="1207.10" x2="608.00" y2="1207.10" stroke-width="1.9"/>
<line x1="516.00" y1="1202.90" x2="516.00" y2="1211.30" stroke-width="1.5"/>
<line x1="608.00" y1="1202.90" x2="608.00" y2="1211.30" stroke-width="1.5"/>
<text stroke="none" x="563.90" y="1197.75" font-size="12.5" text-anchor="middle" textLength="50.5" lengthAdjust="spacingAndGlyphs">P=0.0546</text>
<g transform="translate(432.00,1274.75) rotate(-90)">
<text stroke="none" x="0.00" y="0.00" font-size="13" text-anchor="middle" textLength="103" lengthAdjust="spacingAndGlyphs">CD4+CD25+ Cells</text>
<text stroke="none" x="0.00" y="14.00" font-size="13" text-anchor="middle" textLength="19" lengthAdjust="spacingAndGlyphs">(%)</text>
</g>
<text stroke="none" x="132.5" y="681.5" font-family="Liberation Serif" font-weight="bold" font-size="28">A</text>
<text stroke="none" x="401.5" y="683.0" font-family="Liberation Serif" font-weight="bold" font-size="28">B</text>
<g transform="translate(217.40,1366.50) rotate(-41)">
<text stroke="none" x="0.00" y="0.00" font-size="13.3" text-anchor="middle" textLength="38" lengthAdjust="spacingAndGlyphs">Before</text>
<text stroke="none" x="2.00" y="14.50" font-size="13.3" text-anchor="middle" textLength="40" lengthAdjust="spacingAndGlyphs">(day 0)</text>
</g>
<g transform="translate(278.00,1378.00) rotate(-41)">
<text stroke="none" x="0.00" y="0.00" font-size="13.3" text-anchor="middle" textLength="80" lengthAdjust="spacingAndGlyphs">After Ablation</text>
<text stroke="none" x="2.00" y="14.50" font-size="13.3" text-anchor="middle" textLength="40" lengthAdjust="spacingAndGlyphs">(day 2)</text>
</g>
<g transform="translate(345.50,1384.00) rotate(-41)">
<text stroke="none" x="0.00" y="0.00" font-size="13.3" text-anchor="middle" textLength="100" lengthAdjust="spacingAndGlyphs">After i.a. Infusion</text>
<text stroke="none" x="2.00" y="14.50" font-size="13.3" text-anchor="middle" textLength="40" lengthAdjust="spacingAndGlyphs">(day 4)</text>
</g>
<g transform="translate(518.90,1366.50) rotate(-41)">
<text stroke="none" x="0.00" y="0.00" font-size="13.3" text-anchor="middle" textLength="38" lengthAdjust="spacingAndGlyphs">Before</text>
</g>
<g transform="translate(590.00,1375.00) rotate(-41)">
<text stroke="none" x="0.00" y="0.00" font-size="13.3" text-anchor="middle" textLength="78" lengthAdjust="spacingAndGlyphs">After 3 weeks</text>
</g></g></svg>
</body>
</html>
